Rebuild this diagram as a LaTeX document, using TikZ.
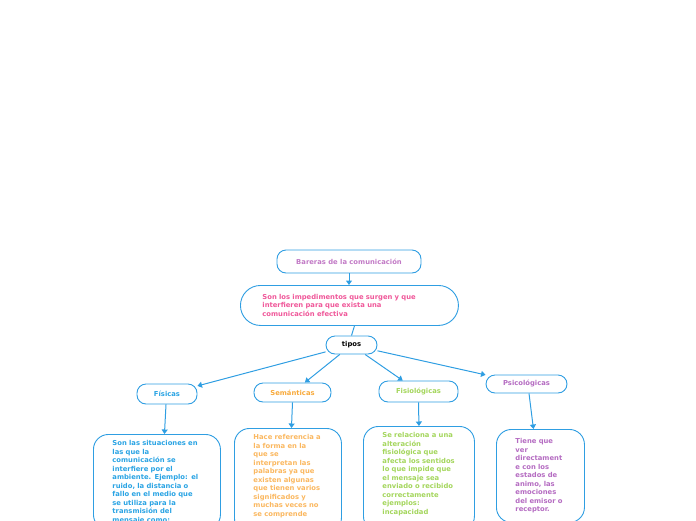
\documentclass[tikz,border=0pt]{standalone}
\usepackage{fontspec}
\setmainfont{DejaVu Sans}
\usepackage{xcolor}
\usetikzlibrary{arrows.meta,positioning}
\definecolor{edge}{HTML}{2F9EE2}
\definecolor{lilac}{HTML}{C27AC6}
\definecolor{rose}{HTML}{F0589A}
\definecolor{sky}{HTML}{2AA4E4}
\definecolor{amber}{HTML}{F8AA3C}
\definecolor{amberlight}{HTML}{FBB860}
\definecolor{lime}{HTML}{A4D65C}
\definecolor{plum}{HTML}{B56CC2}
\tikzset{
  >={Triangle[length=4.5pt,width=6pt]},
  tag/.style={draw=edge, line width=.9pt, rounded corners=9pt, fill=white,
    font=\fontsize{6.8}{8.5}\selectfont\bfseries, inner sep=0pt},
  note/.style={draw=edge, line width=.9pt, rounded corners=15pt, fill=white, anchor=north west,
    font=\fontsize{6.8}{8.5}\selectfont\bfseries, align=left, inner xsep=19pt, inner ysep=6pt},
  conn/.style={->, line width=1pt, color=edge}
}
\begin{document}
\begin{tikzpicture}[x=1pt,y=-1pt]
  \useasboundingbox (0,0) rectangle (696,520);

  % top
  \node[tag,text=lilac,minimum width=144pt,minimum height=23pt] (title) at (349,261.5) {Bareras de la comunicación};
  \node[tag,rounded corners=20pt,text=rose,minimum height=40pt,text width=174pt,align=left,
    inner xsep=22pt,anchor=north west] (def) at (240,285)
    {Son los impedimentos que surgen y que\\interfieren para que exista una\\comunicación efectiva};
  \node[tag,text=black,minimum width=51pt,minimum height=18pt] (tipos) at (351.5,345) {tipos};
  \draw[conn] (title) -- (def.north -| title);
  \draw[line width=1pt,color=edge] ([xshift=5pt]def.south) -- (tipos.north);

  % kinds
  \node[tag,text=sky,minimum width=60pt,minimum height=20pt] (fis) at (167,394) {Físicas};
  \node[tag,text=amber,minimum width=77pt,minimum height=19pt] (sem) at (292.5,392.5) {Semánticas};
  \node[tag,text=lime,minimum width=79pt,minimum height=21pt] (fisio) at (418.5,391.5) {Fisiológicas};
  \node[tag,text=plum,minimum width=81pt,minimum height=18pt] (psi) at (526.5,384) {Psicológicas};
  \foreach \k in {fis,sem,fisio,psi}{
    \draw[conn] (tipos) -- (\k);
  }

  % descriptions
  \node[note,text=sky,text width=89pt] (fisbody) at (93,434)
    {Son las situaciones en\\las que la\\comunicación se\\interfiere por el\\ambiente. Ejemplo: el\\ruido, la distancia o\\fallo en el medio que\\se utiliza para la\\transmisión del\\mensaje como:};
  \node[note,text=amberlight,text width=69pt] (sembody) at (234,428)
    {Hace referencia a\\la forma en la\\que se\\interpretan las\\palabras ya que\\existen algunas\\que tienen varios\\significados y\\muchas veces no\\se comprende\\\strut};
  \node[note,text=lime,text width=73pt] (fisiobody) at (363,426)
    {Se relaciona a una\\alteración\\fisiológica que\\afecta los sentidos\\lo que impide que\\el mensaje sea\\enviado o recibido\\correctamente\\ejemplos:\\incapacidad\\\strut};
  \node[note,text=plum,text width=50pt,minimum height=93pt] (psibody) at (496,429)
    {Tiene que\\ver\\directament\\e con los\\estados de\\animo, las\\emociones\\del emisor o\\receptor.};

  \draw[conn] ([xshift=-1pt]fis.south) -- ([xshift=7.5pt]fisbody.north);
  \draw[conn] (sem.south) -- ([xshift=3.5pt]sembody.north);
  \draw[conn] (fisio.south) -- (fisiobody.north);
  \draw[conn] ([xshift=2.5pt]psi.south) -- ([xshift=-7pt]psibody.north);
\end{tikzpicture}
\end{document}
